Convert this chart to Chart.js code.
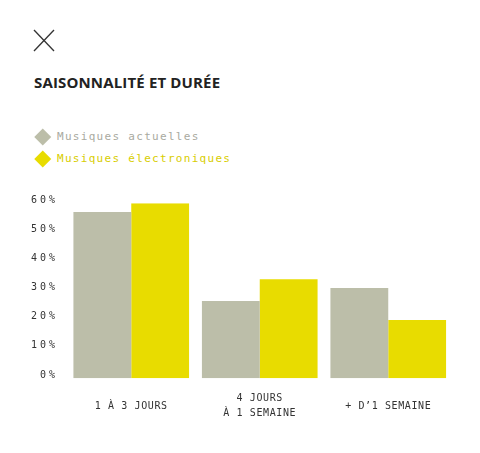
<!DOCTYPE html>
<html>
<head>
<meta charset="utf-8">
<script src="https://cdn.jsdelivr.net/npm/chart.js@4"></script>
<style>
  html, body { margin:0; padding:0; background:#fff; }
  body { width:480px; height:453px; position:relative; overflow:hidden; }
  #close { position:absolute; left:33px; top:29px; }
  #title { position:absolute; left:34px; top:72px; font-family:"Open Sans", sans-serif; font-weight:700; font-size:15px; color:#222; letter-spacing:0.15px; white-space:nowrap; line-height:20px; }
  #legend { position:absolute; left:34px; top:127px; }
  .item { position:relative; height:22px; line-height:20px; font-family:"DejaVu Sans Mono", monospace; font-size:11px; letter-spacing:1.3px; white-space:nowrap; }
  .item .dia { position:absolute; left:2.5px; top:4px; width:11.5px; height:11.5px; transform:rotate(45deg); }
  .item .txt { position:absolute; left:23px; top:0; }
  #wrap { position:absolute; left:0; top:180px; width:480px; height:250px; }
</style>
</head>
<body>
<svg id="close" width="22" height="23" viewBox="0 0 22 23">
  <line x1="1" y1="1" x2="21" y2="22" stroke="#333" stroke-width="1.3"/>
  <line x1="21" y1="1" x2="1" y2="22" stroke="#333" stroke-width="1.3"/>
</svg>
<div id="title">SAISONNALITÉ ET DURÉE</div>
<div id="legend"></div>
<div id="wrap"><canvas id="c"></canvas></div>
<script>
const categories = [['1 À 3 JOURS'], ['4 JOURS', 'À 1 SEMAINE'], ['+ D’1 SEMAINE']];
const seriesNames = ['Musiques actuelles', 'Musiques électroniques'];
const actuelles = [57, 26.5, 31];
const electroniques = [60, 34, 20];
const yTicks = [0, 10, 20, 30, 40, 50, 60];

const barColors = ['#bcbea9', '#e8dc00'];
const legendTextColors = ['#a9aa9f', '#d8cd00'];

// HTML legend built from the series names
const legend = document.getElementById('legend');
seriesNames.forEach((n, i) => {
  const d = document.createElement('div');
  d.className = 'item';
  d.innerHTML = '<span class="dia" style="background:' + barColors[i] + '"></span><span class="txt" style="color:' + legendTextColors[i] + '">' + n + '</span>';
  legend.appendChild(d);
});

const SP = { x: '0.6px', y: '3px' };
const spacingPlugin = {
  id: 'spacing',
  beforeDraw(chart) {
    ['x', 'y'].forEach(id => {
      const s = chart.scales[id];
      if (s && !s.__w) {
        const orig = s.drawLabels;
        s.drawLabels = function (ca) {
          const c = this.ctx;
          const prev = c.letterSpacing;
          c.letterSpacing = SP[id];
          orig.call(this, ca);
          c.letterSpacing = prev;
        };
        s.__w = true;
      }
    });
  }
};

new Chart(document.getElementById('c'), {
  type: 'bar',
  data: {
    labels: categories,
    datasets: [
      { label: seriesNames[0], data: actuelles, backgroundColor: barColors[0], borderWidth: 0 },
      { label: seriesNames[1], data: electroniques, backgroundColor: barColors[1], borderWidth: 0 }
    ]
  },
  options: {
    responsive: true,
    maintainAspectRatio: false,
    animation: false,
    events: [],
    layout: { padding: { left: 0, right: 27.5, top: 23.3, bottom: 0 } },
    datasets: { bar: { barPercentage: 1, categoryPercentage: 0.9 } },
    plugins: { legend: { display: false }, tooltip: { enabled: false } },
    scales: {
      x: {
        grid: { display: false },
        border: { display: false },
        ticks: {
          color: '#333',
          font: { family: 'DejaVu Sans Mono', size: 10, lineHeight: 1.5 },
          padding: 12.4,
          crossAlign: 'center',
          maxRotation: 0,
          autoSkip: false
        },
        afterFit(scale) { scale.height = 51.7; }
      },
      y: {
        min: yTicks[0],
        max: yTicks[yTicks.length - 1],
        afterBuildTicks(scale) { scale.ticks = yTicks.map(v => ({ value: v })); },
        grid: { display: false },
        border: { display: false },
        ticks: {
          color: '#333',
          font: { family: 'DejaVu Sans Mono', size: 10 },
          padding: 1,
          labelOffset: -3.3,
          callback: v => v + '%'
        },
        afterFit(scale) { scale.width = 67; }
      }
    }
  },
  plugins: [spacingPlugin]
});
</script>
</body>
</html>
